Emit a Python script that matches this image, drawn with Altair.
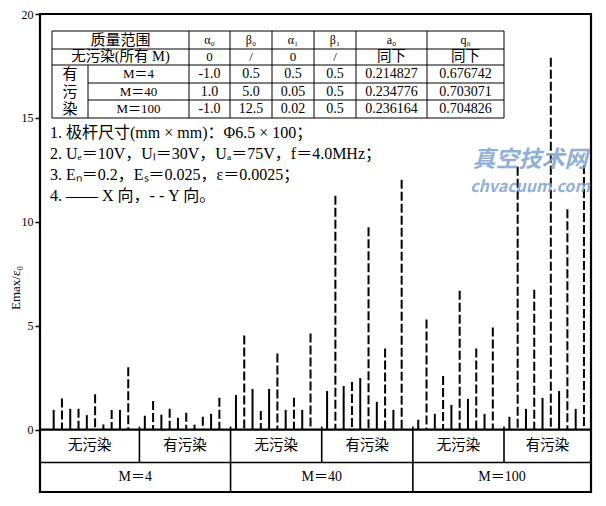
import altair as alt
import pandas as pd

# ---------------- data ----------------
group_labels = ["无污染", "有污染", "无污染", "有污染", "无污染", "有污染"]
mass_labels = ["M＝4", "M＝40", "M＝100"]

# X-direction (solid) values, 5 per group
x_dir = [
    [0.95, 1.00, 0.70, 0.25, 0.95],
    [0.67, 0.72, 0.57, 0.24, 0.76],
    [1.67, 1.96, 1.96, 0.95, 0.95],
    [1.86, 2.10, 2.48, 1.34, 0.95],
    [0.48, 0.76, 1.19, 1.48, 0.76],
    [0.62, 1.00, 1.53, 1.86, 1.00],
]
# Y-direction (dashed) values, 5 per group
y_dir = [
    [1.50, 1.00, 1.70, 0.95, 3.00],
    [1.38, 1.00, 0.81, 0.62, 1.53],
    [4.53, 0.90, 3.67, 1.53, 4.63],
    [11.26, 2.29, 9.74, 3.91, 12.03],
    [5.30, 2.58, 6.68, 3.91, 4.92],
    [12.65, 6.73, 17.90, 10.60, 12.74],
]

y_ticks = [0, 5, 10, 15, 20]

table_header = ["质量范围", "α₀", "β₀", "α₁", "β₁", "a₀", "q₀"]
table_clean = ["无污染(所有 M)", "0", "/", "0", "/", "同下", "同下"]
table_rows = [
    ["M＝4", "-1.0", "0.5", "0.5", "0.5", "0.214827", "0.676742"],
    ["M＝40", "1.0", "5.0", "0.05", "0.5", "0.234776", "0.703071"],
    ["M＝100", "-1.0", "12.5", "0.02", "0.5", "0.236164", "0.704826"],
]
table_side = ["有", "污", "染"]

notes = [
    "1.  极杆尺寸(mm × mm)：Φ6.5 × 100；",
    "2. Uₑ＝10V，Uₗ＝30V，Uₐ＝75V，f＝4.0MHz；",
    "3. Eₙ＝0.2，Eₛ＝0.025，ε＝0.0025；",
    "4. —— X 向，- - Y 向。",
]
y_title = "Emax/ε₀"
watermark = ["真空技术网", "chvacuum.com"]

# ---------------- layout ----------------
PL, PT, W, H = 40, 14, 551, 478
XDOM = (-1.0, 65.5)
YDOM = (-3.0, 20.0)
ROW_SPLIT = -1.58
SERIF = "Liberation Serif, Noto Sans CJK SC"
CJK = "Noto Sans CJK SC"


def px2x(px):
    return XDOM[0] + (px - PL) * (XDOM[1] - XDOM[0]) / W


def py2y(py):
    return YDOM[1] - (py - PT) * (YDOM[1] - YDOM[0]) / H


xs = alt.Scale(domain=list(XDOM), nice=False, zero=False)
ys = alt.Scale(domain=list(YDOM), nice=False, zero=False)
YAX = alt.Axis(
    values=y_ticks, domain=False, grid=False, tickSize=5, tickWidth=1.5,
    tickColor="black", labelFont=SERIF, labelFontSize=12,
    labelColor="black", labelPadding=2, title=None,
)

bars = []
for g in range(6):
    for i in range(5):
        bars.append({"pos": g * 11 + 0.65 + 2 * i, "val": x_dir[g][i], "dir": "X"})
        bars.append({"pos": g * 11 + 1.65 + 2 * i, "val": y_dir[g][i], "dir": "Y"})
bars_df = pd.DataFrame(bars)

base_bars = alt.Chart(bars_df)
solid = base_bars.transform_filter(alt.datum.dir == "X").mark_rule(
    color="black", strokeWidth=2
).encode(
    x=alt.X("pos:Q", scale=xs, axis=None),
    y=alt.Y("val:Q", scale=ys, axis=YAX),
    y2=alt.datum(0),
)
dashed = base_bars.transform_filter(alt.datum.dir == "Y").mark_rule(
    color="black", strokeWidth=2, strokeDash=[9, 3]
).encode(
    x=alt.X("pos:Q", scale=xs, axis=None),
    y=alt.Y("val:Q", scale=ys, axis=YAX),
    y2=alt.datum(0),
)

# bottom category table
bounds1 = [-1, 11, 22, 33, 44, 55, 65.5]
bounds2 = [-1, 22, 44, 65.5]
seg = []
seg.append({"x": XDOM[0], "x2": XDOM[1], "y": 0, "y2": 0, "w": 2.2})
seg.append({"x": XDOM[0], "x2": XDOM[1], "y": ROW_SPLIT, "y2": ROW_SPLIT, "w": 1.6})
for b in bounds1[1:-1]:
    seg.append({"x": b, "x2": b, "y": 0.15, "y2": ROW_SPLIT, "w": 1.6})
for b in bounds2[1:-1]:
    seg.append({"x": b, "x2": b, "y": ROW_SPLIT, "y2": YDOM[0], "w": 1.6})

# inset table grid (page pixels -> data)
cols = [52, 88, 189, 230, 272, 314, 356, 427, 504]
rws = [31, 49, 65, 83, 100, 118]
for i, r in enumerate(rws):
    left = cols[1] if i in (3, 4) else cols[0]
    seg.append({"x": px2x(left), "x2": px2x(cols[-1]), "y": py2y(r), "y2": py2y(r), "w": 1.0})
for j, c in enumerate(cols):
    top = rws[2] if j == 1 else rws[0]
    seg.append({"x": px2x(c), "x2": px2x(c), "y": py2y(top), "y2": py2y(rws[-1]), "w": 1.0})
seg_df = pd.DataFrame(seg)
segs = alt.Chart(seg_df).mark_rule(color="black").encode(
    x=alt.X("x:Q", scale=xs, axis=None),
    x2="x2:Q",
    y=alt.Y("y:Q", scale=ys, axis=YAX),
    y2="y2:Q",
    strokeWidth=alt.StrokeWidth("w:Q", scale=None, legend=None),
)

texts = []
for k in range(6):
    texts.append({"x": (bounds1[k] + bounds1[k + 1]) / 2, "y": ROW_SPLIT / 2,
                  "t": group_labels[k], "s": 14.5, "a": "center"})
for k in range(3):
    texts.append({"x": (bounds2[k] + bounds2[k + 1]) / 2, "y": (ROW_SPLIT + YDOM[0]) / 2,
                  "t": mass_labels[k], "s": 14, "a": "center"})
col_centers = [(cols[0] + cols[2]) / 2] + [(cols[j] + cols[j + 1]) / 2 for j in range(2, 8)]
row_centers = [(rws[i] + rws[i + 1]) / 2 for i in range(5)]
for j, t in enumerate(table_header):
    texts.append({"x": px2x(col_centers[j]), "y": py2y(row_centers[0]), "t": t,
                  "s": 15 if j == 0 else 12, "a": "center"})
for j, t in enumerate(table_clean):
    texts.append({"x": px2x(col_centers[j]), "y": py2y(row_centers[1]), "t": t,
                  "s": 14.5 if j in (0, 5, 6) else 13, "a": "center"})
for i, row in enumerate(table_rows):
    texts.append({"x": px2x((cols[0] + cols[1]) / 2), "y": py2y(row_centers[2 + i]),
                  "t": table_side[i], "s": 15, "a": "center"})
    texts.append({"x": px2x((cols[1] + cols[2]) / 2), "y": py2y(row_centers[2 + i]),
                  "t": row[0], "s": 13, "a": "center"})
    for j in range(1, 7):
        texts.append({"x": px2x(col_centers[j]), "y": py2y(row_centers[2 + i]),
                      "t": row[j], "s": 14, "a": "center"})
note_y = [133, 154, 175, 196]
for t, ny in zip(notes, note_y):
    texts.append({"x": px2x(50), "y": py2y(ny), "t": t, "s": 16, "a": "left"})
text_df = pd.DataFrame(texts)

center_df = text_df[text_df["a"] == "center"]
left_df = text_df[text_df["a"] == "left"]
center_txt = alt.Chart(center_df).mark_text(baseline="middle", align="center", font=SERIF,
                                            color="black").encode(
    x=alt.X("x:Q", scale=xs, axis=None),
    y=alt.Y("y:Q", scale=ys, axis=YAX),
    text="t:N",
    size=alt.Size("s:Q", scale=None, legend=None),
)
left_txt = alt.Chart(left_df).mark_text(baseline="middle", align="left", font=SERIF,
                                        color="black").encode(
    x=alt.X("x:Q", scale=xs, axis=None),
    y=alt.Y("y:Q", scale=ys, axis=YAX),
    text="t:N",
    size=alt.Size("s:Q", scale=None, legend=None),
)

wm_df = pd.DataFrame({
    "x": [px2x(530), px2x(530)],
    "y": [py2y(160), py2y(187)],
    "t": watermark,
    "s": [23, 16],
})
wm = alt.Chart(wm_df).mark_text(baseline="middle", align="center", font=CJK,
                                fontWeight="bold", fontStyle="italic",
                                color="#7fa3cf", opacity=0.85).encode(
    x=alt.X("x:Q", scale=xs, axis=None),
    y=alt.Y("y:Q", scale=ys, axis=YAX),
    text="t:N",
    size=alt.Size("s:Q", scale=None, legend=None),
)

ytitle = alt.Chart(pd.DataFrame({"t": [y_title]})).mark_text(
    angle=270, baseline="middle", align="center", font=SERIF, fontSize=13, color="black"
).encode(
    x=alt.value(16 - PL),
    y=alt.value(288 - PT),
    text="t:N",
)

chart = alt.layer(solid, dashed, segs, center_txt, left_txt, wm, ytitle).properties(
    width=W, height=H,
    autosize=alt.AutoSizeParams(type="none"),
    padding={"left": PL - 8, "top": PT - 8, "right": 5, "bottom": 5},
).configure_view(stroke="black", strokeWidth=2.2)

chart.save("out.html", embed_options={"renderer": "svg", "actions": False})
